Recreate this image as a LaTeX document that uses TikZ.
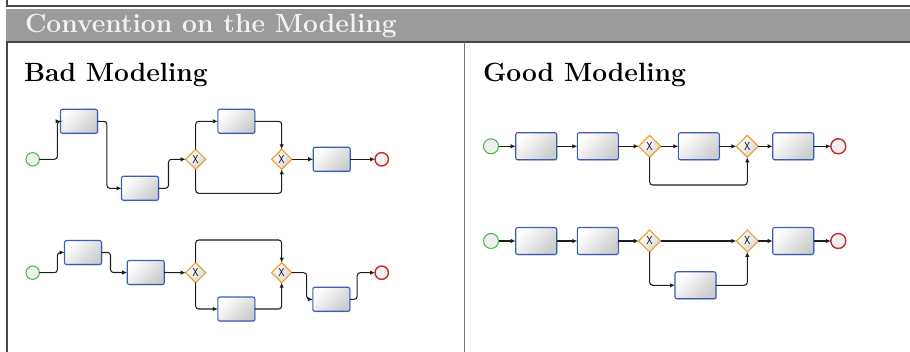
\documentclass[tikz,border=0pt]{standalone}
\usetikzlibrary{shapes.geometric,arrows.meta,shadows,calc}
\definecolor{bandgray}{HTML}{9B9B9B}
\definecolor{framegray}{HTML}{474747}
\definecolor{midgray}{HTML}{767676}
\definecolor{taskblue}{HTML}{3A5DB8}
\definecolor{gwor}{HTML}{F0A02A}
\definecolor{startgreen}{HTML}{4DBB4D}
\definecolor{endred}{HTML}{C62B2B}
\definecolor{flowc}{HTML}{1E1E1E}
\newcommand{\gwx}{\scalebox{0.8}[1]{\fontsize{11.5}{11.5}\sffamily X}}
\tikzset{
  every node/.style={inner sep=0pt, outer sep=0pt},
  taskbox/.style={draw=taskblue, line width=1.1pt, rounded corners=2pt,
    top color=white, bottom color=black!20, shading angle=45,
    drop shadow={shadow xshift=1pt, shadow yshift=-1.2pt, opacity=0.25}},
  badtask/.style={taskbox, minimum width=37pt, minimum height=24pt},
  goodtask/.style={taskbox, minimum width=41pt, minimum height=27pt},
  gwbox/.style={diamond, draw=gwor, line width=1.1pt, top color=white, bottom color=black!16, shading angle=45, text=black},
  badgw/.style={gwbox, minimum width=20pt, minimum height=20pt},
  goodgw/.style={gwbox, minimum width=22pt, minimum height=22pt},
  evstart/.style={circle, draw=startgreen, line width=1.1pt, fill=black!6},
  evend/.style={circle, draw=endred, line width=1.4pt, fill=black!6},
  flow/.style={draw=flowc, line width=1.05pt, rounded corners=3pt, -{Latex[length=5pt,width=4.5pt]}},
  headtext/.style={anchor=base west, font=\fontsize{26.4}{30}\selectfont\bfseries},
}
\begin{document}
\begin{tikzpicture}[x=1pt,y=-1pt]
\useasboundingbox (0,0) rectangle (910,352);
% frame
\fill[bandgray] (6,9.5) rectangle (910,42);
\draw[framegray, line width=1.4pt] (7,0) -- (7,6) -- (910,6);
\draw[framegray, line width=1.6pt] (6,42) -- (910,42);
\draw[framegray, line width=1.5pt] (7,42) -- (7,352);
\draw[midgray, line width=1.8pt] (464.5,42) -- (464.5,352);
\node[headtext, text=black!5] (title) at (25,33) {Convention on the Modeling};
\node[headtext] (badh) at (24,82) {Bad Modeling};
\node[headtext] (goodh) at (483,82) {Good Modeling};

% ---------- Bad, top ----------
\node[evstart, minimum size=13.4pt] (s1) at (32.7,159.3) {};
\node[badtask] (t1) at (79,121.3) {};
\node[badtask] (t2) at (140,188.3) {};
\node[badgw] (g1) at (195.7,159.3) {\gwx};
\node[badtask] (t3) at (236.3,121.3) {};
\node[badgw] (g2) at (281.7,159.3) {\gwx};
\node[badtask] (t4) at (331.7,159.3) {};
\node[evend, minimum size=13.4pt] (e1) at (381.7,159.3) {};
\draw[flow] (s1.east) -- ++(18,0) |- (t1.west);
\draw[flow] (t1.east) -- ++(9.4,0) |- (t2.west);
\draw[flow] (t2.east) -- ++(10,0) |- (g1.west);
\draw[flow] (g1.north) |- (t3.west);
\draw[flow] (t3.east) -| (g2.north);
\draw[flow] (g1.south) -- ++(0,24) -| (g2.south);
\draw[flow] (g2.east) -- (t4.west);
\draw[flow] (t4.east) -- (e1.west);

% ---------- Bad, bottom ----------
\node[evstart, minimum size=13.4pt] (s2) at (32.7,272.7) {};
\node[badtask] (u1) at (83,252.5) {};
\node[badtask] (u2) at (145.7,272.5) {};
\node[badgw] (h1) at (195.7,272.7) {\gwx};
\node[badtask] (u3) at (236.3,309) {};
\node[badgw] (h2) at (281.7,272.7) {\gwx};
\node[badtask] (u4) at (331.3,299.3) {};
\node[evend, minimum size=13.4pt] (e2) at (381.7,272.7) {};
\draw[flow] (s2.east) -- ++(18,0) |- (u1.west);
\draw[flow] (u1.east) -- ++(9,0) |- (u2.west);
\draw[flow] (u2.east) -- (h1.west);
\draw[flow] (h1.north) -- ++(0,-22.7) -| (h2.north);
\draw[flow] (h1.south) |- (u3.west);
\draw[flow] (u3.east) -| (h2.south);
\draw[flow] (h2.east) -- ++(15,0) |- (u4.west);
\draw[flow] (u4.east) -- ++(7.4,0) |- (e2.west);

% ---------- Good, top ----------
\node[evstart, minimum size=15pt] (s3) at (491,146.3) {};
\node[goodtask] (w1) at (536.2,146.3) {};
\node[goodtask] (w2) at (597.8,146.3) {};
\node[goodgw] (k1) at (649.7,146.3) {\gwx};
\node[goodtask] (w3) at (698.8,146.3) {};
\node[goodgw] (k2) at (747.3,146.3) {\gwx};
\node[goodtask] (w4) at (793.2,146.3) {};
\node[evend, minimum size=15pt] (e3) at (838.3,146.3) {};
\draw[flow] (s3.east) -- (w1.west);
\draw[flow] (w1.east) -- (w2.west);
\draw[flow] (w2.east) -- (k1.west);
\draw[flow] (k1.east) -- (w3.west);
\draw[flow] (w3.east) -- (k2.west);
\draw[flow] (k1.south) -- ++(0,27.7) -| (k2.south);
\draw[flow] (k2.east) -- (w4.west);
\draw[flow] (w4.east) -- (e3.west);

% ---------- Good, bottom ----------
\node[evstart, minimum size=15pt] (s4) at (491,241) {};
\node[goodtask] (v1) at (536.2,241) {};
\node[goodtask] (v2) at (597.8,241) {};
\node[goodgw] (m1) at (649.7,241) {\gwx};
\node[goodtask] (v3) at (695.5,285.3) {};
\node[goodgw] (m2) at (747.3,241) {\gwx};
\node[goodtask] (v4) at (793.2,241) {};
\node[evend, minimum size=15pt] (e4) at (838.3,241) {};
\draw[flow] (s4.east) -- (v1.west);
\draw[flow] (v1.east) -- (v2.west);
\draw[flow] (v2.east) -- (m1.west);
\draw[flow] (m1.east) -- (m2.west);
\draw[flow] (m1.south) |- (v3.west);
\draw[flow] (v3.east) -| (m2.south);
\draw[flow] (m2.east) -- (v4.west);
\draw[flow] (v4.east) -- (e4.west);
\end{tikzpicture}
\end{document}
